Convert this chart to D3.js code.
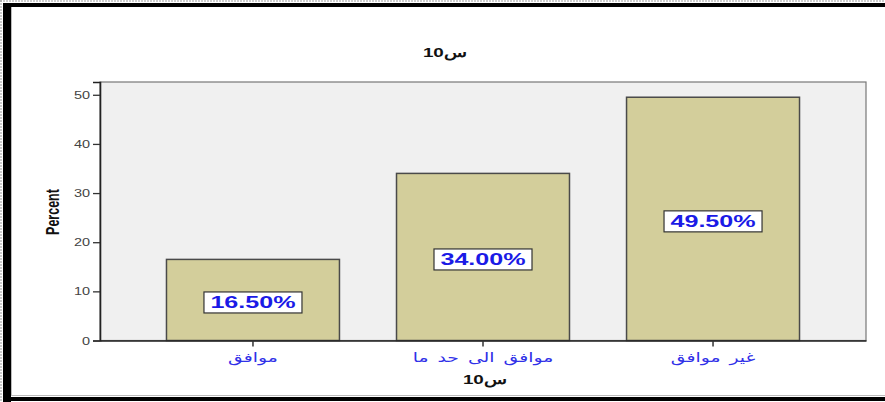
<!DOCTYPE html>
<html><head><meta charset="utf-8">
<script src="https://cdn.jsdelivr.net/npm/d3@7"></script>
<style>
html,body{margin:0;padding:0;background:#fff;}
svg{display:block;}
</style></head>
<body>
<script>
const categories = ["موافق", "موافق الى حد ما", "غير موافق"];
const percents = [16.5, 34.0, 49.5];
const valueLabels = ["16.50%", "34.00%", "49.50%"];
const yTicks = [0, 10, 20, 30, 40, 50];
const chartTitle = "س10";
const xTitle = "س10";
const yTitle = "Percent";

const W = 885, H = 402;
const SX = 1.45; // horizontal stretch seen in the reference glyphs
const svg = d3.select("body").append("svg").attr("width", W).attr("height", H);

// outer frame
svg.append("rect").attr("x",0).attr("y",0).attr("width",W).attr("height",H).attr("fill","#fff");
svg.append("line").attr("x1",0).attr("x2",W).attr("y1",1).attr("y2",1).attr("stroke","#999").attr("stroke-dasharray","2,1");
svg.append("line").attr("x1",1).attr("x2",1).attr("y1",0).attr("y2",H).attr("stroke","#999").attr("stroke-dasharray","2,1");
svg.append("rect").attr("x",3).attr("y",3).attr("width",W-3).attr("height",4).attr("fill","#000");
svg.append("rect").attr("x",3).attr("y",3).attr("width",8).attr("height",H-3).attr("fill","#000");
svg.append("rect").attr("x",3).attr("y",397).attr("width",W-3).attr("height",4).attr("fill","#000");
svg.append("line").attr("x1",11).attr("x2",W).attr("y1",395.5).attr("y2",395.5).attr("stroke","#bbb");
svg.append("line").attr("x1",11.5).attr("x2",11.5).attr("y1",7).attr("y2",396).attr("stroke","#bbb");

const L = 100, R = 866, T = 82, B = 340.5;
const x = d3.scaleBand().domain(categories).range([L, R]).paddingInner(0.248).paddingOuter(0.289);
const y = d3.scaleLinear().domain([0, 52.6]).range([B, T]);

// plot area
svg.append("rect").attr("x",L).attr("y",T).attr("width",R-L).attr("height",B-T)
  .attr("fill","#f0f0f0").attr("stroke","#777").attr("stroke-width",1.2);

// bars
svg.selectAll("rect.bar").data(percents).enter().append("rect").attr("class","bar")
  .attr("x",(d,i)=>x(categories[i]))
  .attr("y",d=>y(d))
  .attr("width",x.bandwidth())
  .attr("height",d=>B-y(d))
  .attr("fill","#d3ce9b").attr("stroke","#4a4a4a").attr("stroke-width",1.5);

// y axis
const yAxis = svg.append("g").attr("transform",`translate(${L},0)`)
  .call(d3.axisLeft(y).tickValues(yTicks).tickSize(7).tickPadding(3));
yAxis.select(".domain").attr("stroke","#222").attr("stroke-width",1.6);
yAxis.selectAll(".tick line").attr("stroke","#333").attr("stroke-width",1.3);
yAxis.selectAll(".tick text").attr("fill","#444")
  .style("font-family","'Liberation Sans', Arial, sans-serif").style("font-size","10px")
  .attr("x",-10/SX).attr("dy","0.35em").attr("transform",`scale(${SX},1)`);

// x axis
const xAxis = svg.append("g").attr("transform",`translate(0,${B})`)
  .call(d3.axisBottom(x).tickSize(6).tickPadding(6).tickSizeOuter(0));
xAxis.select(".domain").attr("stroke","#222").attr("stroke-width",1.6);
xAxis.selectAll(".tick line").attr("stroke","#333").attr("stroke-width",1.5);
xAxis.selectAll(".tick text").attr("fill","#3030e8")
  .style("font-family","'DejaVu Sans', sans-serif").style("font-size","13px")
  .style("word-spacing","2px").attr("transform",`scale(${SX},1)`);

// value labels
const lbl = svg.selectAll("g.vl").data(percents).enter().append("g").attr("class","vl")
  .attr("transform",(d,i)=>`translate(${x(categories[i])+x.bandwidth()/2},${y(d/2)+2.5})`);
lbl.append("rect").attr("x",-49).attr("y",-10.5).attr("width",98).attr("height",21)
  .attr("fill","#fff").attr("stroke","#333").attr("stroke-width",1.2);
lbl.append("text").text((d,i)=>valueLabels[i])
  .attr("text-anchor","middle").attr("dy","0.36em").attr("transform",`scale(${SX*1.05},1)`)
  .attr("fill","#1a1ae6").style("font-family","'Liberation Sans', Arial, sans-serif")
  .style("font-size","16.5px").style("font-weight","bold");

// titles
function stretchedText(txt, cx, cy, size){
  svg.append("g").attr("transform",`translate(${cx},${cy}) scale(${SX},1)`)
    .append("text").text(txt).attr("text-anchor","middle")
    .style("font-family","'Liberation Sans', Arial, sans-serif").style("font-size",size+"px")
    .style("font-weight","bold").attr("fill","#111");
}
stretchedText(chartTitle, 445, 57, 13);
stretchedText(xTitle, 485, 384, 13);
svg.append("g").attr("transform",`translate(59,212) scale(${SX},1) rotate(-90)`)
  .append("text").text(yTitle).attr("text-anchor","middle")
  .style("font-family","'Liberation Sans', Arial, sans-serif")
  .style("font-size","12.5px").style("font-weight","bold").attr("fill","#111");
</script>
</body></html>
